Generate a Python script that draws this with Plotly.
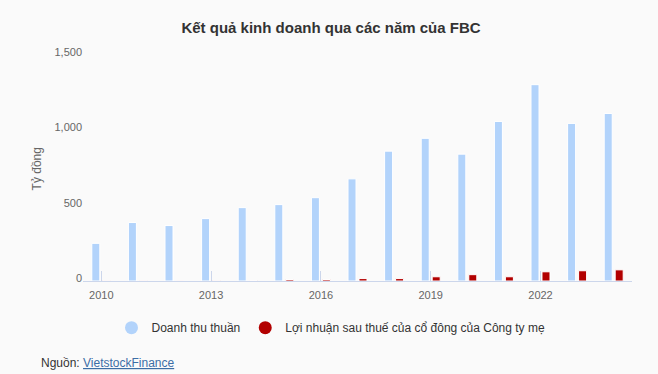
import plotly.graph_objects as go

years = list(range(2010, 2025))
doanh_thu = [250, 388, 368, 414, 487, 507, 553, 678, 862, 947, 842, 1059, 1303, 1046, 1112]
loi_nhuan = [2, 1, 1, 2, 3, 10, 10, 16, 16, 28, 42, 28, 61, 68, 74]
y_ticks = [0, 500, 1000, 1500]

BLUE = "#b2d3fb"
RED = "#b20000"
BG = "#fafafa"
W, H = 658, 374
L, R, T, B = 82.5, 25.5, 54.7, 91

fig = go.Figure()
fig.add_trace(go.Bar(x=years, y=doanh_thu, name="Doanh thu thuần", marker=dict(color=BLUE, line=dict(color="white", width=1)), showlegend=False))
fig.add_trace(go.Bar(x=years, y=loi_nhuan, name="Lợi nhuận sau thuế của cổ đông của Công ty mẹ", marker=dict(color=RED, line=dict(color="white", width=1)), showlegend=False))
# legend entries with circle symbols
fig.add_trace(go.Scatter(x=[None], y=[None], mode="markers", name="Doanh thu thuần", marker=dict(color=BLUE, size=13, symbol="circle")))
fig.add_trace(go.Scatter(x=[None], y=[None], mode="markers", name="Lợi nhuận sau thuế của cổ đông của Công ty mẹ", marker=dict(color=RED, size=13, symbol="circle")))

font_family = "Liberation Sans, Arial, sans-serif"
pw = W - L - R
ph = H - T - B

fig.update_layout(
    width=W, height=H,
    margin=dict(l=L, r=R, t=T, b=B, pad=0),
    paper_bgcolor=BG, plot_bgcolor=BG,
    font=dict(family=font_family, color="#666666", size=11),
    barmode="group", bargap=0.4, bargroupgap=0.27,
    title=dict(text="<b>Kết quả kinh doanh qua các năm của FBC</b>", x=331 / W, xanchor="center",
               y=1 - 28 / H, yanchor="middle", yref="container",
               font=dict(size=15, color="#333333", family=font_family)),
    xaxis=dict(range=[2009.5, 2024.5], tickmode="linear", tick0=2010, dtick=3,
               showgrid=False, zeroline=False, showline=True, linecolor="#ccd6eb", linewidth=1,
               ticks="inside", ticklen=10, tickcolor="#ccd6eb", tickwidth=1,
               tickfont=dict(size=11, color="#666666"), ticklabelstandoff=4),
    yaxis=dict(range=[0, 1500], tickvals=y_ticks, tickformat=",", showgrid=False, zeroline=False,
               showline=False, ticks="", tickfont=dict(size=11, color="#666666"), ticklabelshift=-3),
    legend=dict(orientation="h", xref="container", x=331 / W, xanchor="center",
                yref="container", y=1 - 327.7 / H, yanchor="middle",
                font=dict(size=12, color="#333333"), bgcolor="rgba(0,0,0,0)", itemwidth=30),
    annotations=[
        dict(text="Tỷ đồng", textangle=-90, xref="paper", yref="paper",
             x=(36.7 - L) / pw, y=(H - B - 170) / ph, xanchor="center", yanchor="middle",
             showarrow=False, font=dict(size=12, color="#666666")),
        dict(text="Nguồn: <a href='https://finance.vietstock.vn/' style='color:#3c6ea6'><span style='text-decoration:underline'>VietstockFinance</span></a>",
             xref="paper", yref="paper", x=(38 - L) / pw, y=(H - B - 366) / ph,
             xanchor="left", yanchor="middle", showarrow=False,
             font=dict(size=12, color="#333333")),
    ],
)

fig.write_html("out.html", config={"displayModeBar": False},
               post_script="document.body.style.margin='0';document.body.style.background='%s';" % BG)
